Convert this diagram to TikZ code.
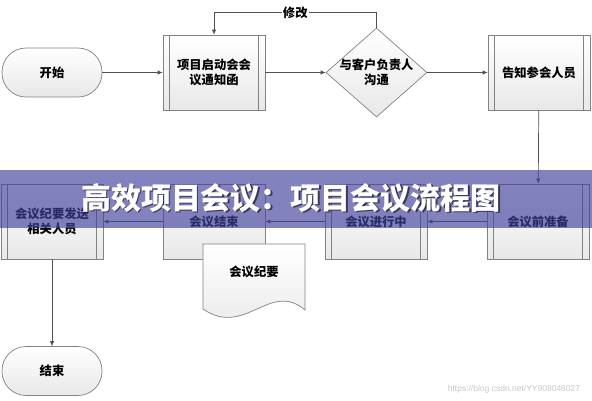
\documentclass[tikz,border=0pt]{standalone}
\usepackage{fontspec}
\setmainfont{Noto Sans CJK SC}
\newfontfamily\wmfont{Liberation Sans}
\usetikzlibrary{shapes.geometric,arrows.meta,calc}
\definecolor{edgegray}{RGB}{130,130,130}
\definecolor{linegray}{RGB}{80,80,80}
\definecolor{bandc}{RGB}{66,66,158}
\begin{document}
\begin{tikzpicture}[x=1pt,y=-1pt,
  font=\bfseries\fontsize{12.3}{15}\selectfont,
  shade/.style={top color=white, bottom color=black!9},
  box/.style={draw=edgegray, shade, minimum width=102pt, minimum height=75pt, inner sep=0pt, align=center, line width=0.7pt},
  term/.style={draw=edgegray, shade, minimum width=100pt, minimum height=49pt, rounded corners=24pt, line width=0.7pt},
  decide/.style={diamond, draw=edgegray, shade, minimum width=101pt, minimum height=89pt, inner sep=0pt, line width=0.7pt},
  bar/.style={draw=edgegray, line width=0.7pt},
  arr/.style={draw=linegray, line width=0.7pt, -{Latex[length=5pt,width=4.5pt]}},
  titlefont/.style={font=\bfseries\fontsize{30}{34}\selectfont},
]
\useasboundingbox (0,0) rectangle (592,400);

% nodes
\node[term] (start) at (52,72.5) {开始};
\node[box] (kickoff) at (214,72.5) {项目启动会会\\议通知函};
\node[decide, label={[align=center, inner sep=0pt]center:与客户负责人\\沟通}] (talk) at (376.5,72.5) {};
\node[box] (notify) at (539,72.5) {告知参会人员};
\node[box] (prep) at (538,221.5) {会议前准备};
\node[box] (inmeet) at (376,221.5) {会议进行中};
\node[box] (close) at (214,221.5) {会议结束};
\node[box] (send) at (52,221.5) {会议纪要发送\\相关人员};
\node[term] (stop) at (52,371) {结束};

\foreach \n in {kickoff,notify,prep,inmeet,send}{
  \draw[bar] ([xshift=7pt]\n.north west) -- ([xshift=7pt]\n.south west);
  \draw[bar] ([xshift=-7pt]\n.north east) -- ([xshift=-7pt]\n.south east);
}

% connectors
\draw[arr] (start) -- (kickoff);
\draw[arr] (kickoff) -- (talk);
\draw[arr] (talk) -- (notify);
\draw[arr] (talk.north) -- ++(0,-15) -| node[pos=0.25, fill=white, inner sep=1pt] (fix) {修改} (kickoff.north);
\draw[arr] (notify) -- (prep);
\draw[arr] (prep) -- (inmeet);
\draw[arr] (inmeet) -- (close);
\draw[arr] (close) -- (send);
\draw[arr] (send) -- (stop);

% document shape
\draw[draw=edgegray, shade, line width=0.7pt] (203,244) -- (305,244) -- (305,310)
  .. controls (270,280) and (245,338) .. (203,309) -- cycle;
\node (minutes) at (254,272) {会议纪要};

% banner
\fill[bandc, opacity=0.66] (0,170) rectangle (592,228);
\node[titlefont, text=black, opacity=0.55] (titleshadow) at (292.5,199.5) {高效项目会议：项目会议流程图};
\node[titlefont, text=white] (title) at (291,198) {高效项目会议：项目会议流程图};

% watermark
\node[font=\wmfont\fontsize{8.5}{10}\selectfont, text=black!22] (wm) at (514,389) {https://blog.csdn.net/YY908046027};
\end{tikzpicture}
\end{document}
